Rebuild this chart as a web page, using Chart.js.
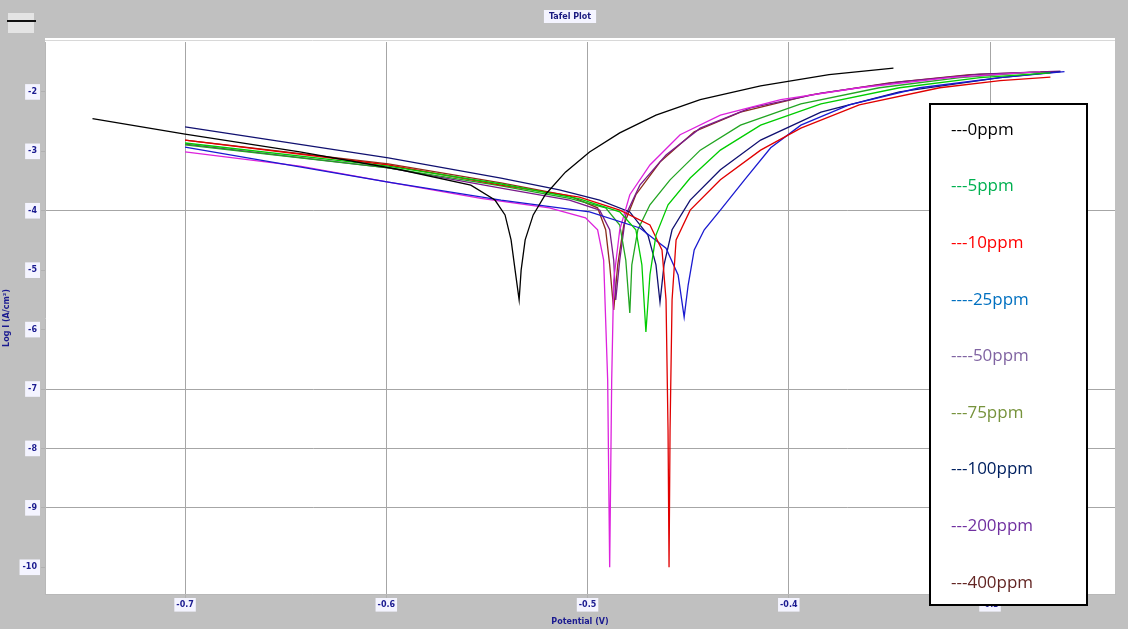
<!DOCTYPE html>
<html>
<head>
<meta charset="utf-8">
<title>Tafel</title>
<script src="https://cdn.jsdelivr.net/npm/chart.js@4.4.1/dist/chart.umd.min.js"></script>
<style>
  html, body { margin: 0; padding: 0; background: #c0c0c0; }
  #grafico { display: block; }
</style>
</head>
<body>
<canvas id="grafico" width="1128" height="629"></canvas>
<script>
var xTicks = [-0.7, -0.6, -0.5, -0.4, -0.3];
var yTicks = [-2, -3, -4, -5, -6, -7, -8, -9, -10];
var yGrid = [-4, -7, -8, -9];

var etichette = ['---0ppm', '---5ppm', '---10ppm', '----25ppm', '----50ppm', '---75ppm', '---100ppm', '---200ppm', '---400ppm'];
var coloriLegenda = ['#000000', '#00b050', '#ff0000', '#0070c0', '#8064a2', '#77933c', '#002060', '#7030a0', '#632523'];
var coloriLinee = ['#000000', '#00cc00', '#e00000', '#1a1ad0', '#dd22dd', '#22a522', '#101070', '#7a1a8a', '#8b2d1a'];

// potenziale (V) e log corrente per ogni concentrazione
var pot0 = [-0.746, -0.700, -0.643, -0.593, -0.558, -0.546, -0.541, -0.538, -0.536, -0.534, -0.533, -0.531, -0.527, -0.521, -0.511, -0.499, -0.484, -0.466, -0.444, -0.414, -0.380, -0.348];
var cur0 = [-2.45, -2.71, -3.01, -3.31, -3.57, -3.82, -4.07, -4.49, -5.00, -5.50, -5.00, -4.49, -4.07, -3.73, -3.35, -3.01, -2.69, -2.39, -2.13, -1.90, -1.71, -1.60];

var pot5 = [-0.700, -0.599, -0.543, -0.504, -0.484, -0.476, -0.473, -0.471, -0.469, -0.466, -0.460, -0.449, -0.434, -0.414, -0.384, -0.345, -0.305, -0.270];
var cur5 = [-2.86, -3.25, -3.55, -3.80, -4.02, -4.32, -4.91, -6.04, -5.08, -4.41, -3.90, -3.45, -2.98, -2.56, -2.20, -1.93, -1.76, -1.68];

var pot10 = [-0.700, -0.599, -0.543, -0.504, -0.484, -0.469, -0.463, -0.461, -0.460, -0.4595, -0.459, -0.458, -0.456, -0.449, -0.434, -0.414, -0.394, -0.365, -0.325, -0.295, -0.270];
var cur10 = [-2.81, -3.23, -3.57, -3.77, -3.99, -4.24, -4.66, -5.50, -7.69, -10.00, -7.69, -5.50, -4.49, -3.99, -3.48, -2.98, -2.61, -2.22, -1.93, -1.81, -1.75];

var pot25 = [-0.700, -0.599, -0.543, -0.499, -0.474, -0.461, -0.455, -0.452, -0.450, -0.447, -0.442, -0.434, -0.422, -0.409, -0.394, -0.370, -0.335, -0.295, -0.263];
var cur25 = [-2.93, -3.52, -3.82, -4.02, -4.29, -4.63, -5.08, -5.79, -5.25, -4.66, -4.32, -3.99, -3.48, -2.94, -2.56, -2.22, -1.93, -1.76, -1.66];

var pot50 = [-0.700, -0.643, -0.599, -0.553, -0.519, -0.501, -0.495, -0.492, -0.490, -0.489, -0.488, -0.487, -0.484, -0.479, -0.469, -0.454, -0.434, -0.404, -0.365, -0.320, -0.275];
var cur50 = [-3.01, -3.25, -3.52, -3.79, -3.95, -4.12, -4.32, -4.83, -6.85, -10.00, -6.85, -5.17, -4.32, -3.73, -3.23, -2.72, -2.39, -2.13, -1.93, -1.76, -1.66];

var pot75 = [-0.700, -0.599, -0.543, -0.509, -0.491, -0.484, -0.481, -0.479, -0.478, -0.475, -0.469, -0.459, -0.444, -0.424, -0.394, -0.355, -0.315, -0.275];
var cur75 = [-2.89, -3.28, -3.58, -3.79, -3.95, -4.24, -4.83, -5.72, -4.91, -4.32, -3.90, -3.48, -2.98, -2.56, -2.20, -1.93, -1.76, -1.66];

var pot100 = [-0.700, -0.599, -0.543, -0.514, -0.494, -0.479, -0.470, -0.466, -0.464, -0.462, -0.458, -0.449, -0.434, -0.414, -0.384, -0.345, -0.295, -0.265];
var cur100 = [-2.59, -3.11, -3.45, -3.65, -3.82, -4.02, -4.41, -4.91, -5.54, -4.91, -4.32, -3.82, -3.31, -2.81, -2.34, -2.00, -1.76, -1.66];

var pot200 = [-0.700, -0.599, -0.543, -0.509, -0.494, -0.489, -0.487, -0.486, -0.484, -0.481, -0.474, -0.461, -0.444, -0.419, -0.384, -0.345, -0.305, -0.265];
var cur200 = [-2.88, -3.28, -3.62, -3.82, -3.99, -4.32, -4.83, -5.50, -4.83, -4.07, -3.57, -3.06, -2.61, -2.27, -2.02, -1.83, -1.70, -1.65];

var pot400 = [-0.700, -0.599, -0.543, -0.509, -0.495, -0.491, -0.489, -0.487, -0.485, -0.482, -0.476, -0.464, -0.447, -0.424, -0.389, -0.350, -0.310, -0.270];
var cur400 = [-2.81, -3.21, -3.53, -3.75, -3.95, -4.32, -4.91, -5.67, -4.91, -4.24, -3.73, -3.18, -2.67, -2.34, -2.05, -1.85, -1.71, -1.66];

var potenziali = [pot0, pot5, pot10, pot25, pot50, pot75, pot100, pot200, pot400];
var correnti = [cur0, cur5, cur10, cur25, cur50, cur75, cur100, cur200, cur400];

function punti(pot, cur) {
    var out = [];
    for (var i = 0; i < pot.length; i++) {
        out.push({x: pot[i], y: cur[i]});
    }
    return out;
}

var datasets = [];
for (var i = 0; i < potenziali.length; i++) {
    datasets.push({
        label: etichette[i],
        data: punti(potenziali[i], correnti[i]),
        borderColor: coloriLinee[i],
        borderWidth: 1.3,
        pointRadius: 0,
        tension: 0,
        showLine: true,
        fill: false
    });
}

var sfondo = {
    id: 'sfondo',
    beforeDraw: function(chart) {
        var ctx = chart.ctx;
        var a = chart.chartArea;
        ctx.save();
        ctx.fillStyle = '#c0c0c0';
        ctx.fillRect(0, 0, chart.width, chart.height);
        ctx.fillStyle = '#ffffff';
        ctx.fillRect(a.left, a.top - 4, a.right - a.left, a.bottom - a.top + 4);
        ctx.strokeStyle = '#d8d8d8';
        ctx.lineWidth = 1;
        ctx.beginPath();
        ctx.moveTo(a.left, a.top - 1.5);
        ctx.lineTo(a.right, a.top - 1.5);
        ctx.stroke();

        // iconetta in alto a sinistra
        ctx.fillStyle = '#e4e4e4';
        ctx.fillRect(8, 13, 26, 20);
        ctx.fillStyle = '#111111';
        ctx.fillRect(7, 20, 29, 2);

        // titolo
        ctx.font = 'bold 8px "DejaVu Sans"';
        var testo = 'Tafel Plot';
        var w = ctx.measureText(testo).width;
        ctx.fillStyle = '#f4f4ff';
        ctx.fillRect(570 - w / 2 - 5, 10, w + 10, 13);
        ctx.fillStyle = '#1a1a80';
        ctx.textAlign = 'center';
        ctx.textBaseline = 'middle';
        ctx.fillText(testo, 570, 17);
        ctx.restore();
    },
    afterDraw: function(chart) {
        var ctx = chart.ctx;
        ctx.save();
        ctx.fillStyle = '#ffffff';
        ctx.fillRect(930, 104, 157, 501);
        ctx.strokeStyle = '#000000';
        ctx.lineWidth = 2;
        ctx.strokeRect(930, 104, 157, 501);
        ctx.font = '17px "Open Sans"';
        ctx.textAlign = 'left';
        ctx.textBaseline = 'middle';
        for (var i = 0; i < chart.data.datasets.length; i++) {
            ctx.fillStyle = coloriLegenda[i];
            ctx.fillText(chart.data.datasets[i].label, 951, 130 + i * 56.6);
        }
        ctx.restore();
    }
};

var ctx = document.getElementById('grafico');
var chart = new Chart(ctx, {
    type: 'scatter',
    data: { datasets: datasets },
    plugins: [sfondo],
    options: {
        responsive: false,
        animation: false,
        layout: { padding: { top: 42, right: 13, left: 0, bottom: 0 } },
        plugins: {
            legend: { display: false },
            tooltip: { enabled: false }
        },
        scales: {
            x: {
                type: 'linear',
                min: -0.7696,
                max: -0.2379,
                afterBuildTicks: function(scale) {
                    scale.ticks = xTicks.map(function(v) { return {value: v}; });
                },
                afterFit: function(scale) { scale.height = 35; },
                ticks: {
                    callback: function(v) { return v.toFixed(1); },
                    font: { size: 8, family: 'DejaVu Sans', weight: 'bold' },
                    color: '#1a1a90',
                    padding: 2,
                    showLabelBackdrop: true,
                    backdropColor: '#f4f4ff',
                    backdropPadding: 2,
                    maxRotation: 0
                },
                grid: { color: '#a6a6a6', tickColor: '#b0b0b0', tickLength: 4 },
                border: { color: '#b8b8b8' },
                title: {
                    display: true,
                    text: 'Potential (V)',
                    font: { size: 8, family: 'DejaVu Sans', weight: 'bold' },
                    color: '#1a1a90',
                    padding: { top: 0, bottom: 2 }
                }
            },
            y: {
                type: 'linear',
                min: -10.45,
                max: -1.16,
                afterBuildTicks: function(scale) {
                    scale.ticks = yTicks.map(function(v) { return {value: v}; });
                },
                afterFit: function(scale) { scale.width = 45; },
                ticks: {
                    callback: function(v) { return String(v); },
                    font: { size: 8, family: 'DejaVu Sans', weight: 'bold' },
                    color: '#1a1a90',
                    padding: 4,
                    showLabelBackdrop: true,
                    backdropColor: '#f4f4ff',
                    backdropPadding: 3
                },
                grid: {
                    color: function(c) {
                        if (c.tick && yGrid.indexOf(c.tick.value) >= 0) {
                            return '#a6a6a6';
                        }
                        return 'rgba(0,0,0,0)';
                    },
                    tickColor: '#b0b0b0',
                    tickLength: 4
                },
                border: { color: '#b8b8b8' },
                title: {
                    display: true,
                    text: 'Log I (A/cm²)',
                    font: { size: 8, family: 'DejaVu Sans', weight: 'bold' },
                    color: '#1a1a90',
                    padding: { top: 2, bottom: 0 }
                }
            }
        }
    }
});
</script>
</body>
</html>
